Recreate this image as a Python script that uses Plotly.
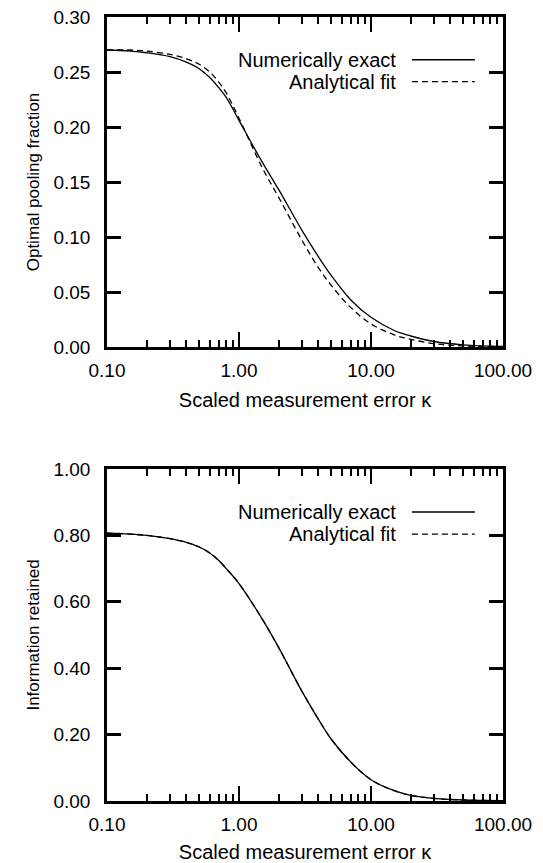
import plotly.graph_objects as go
from plotly.subplots import make_subplots

# ---- data ----
kappa = [0.1, 0.15, 0.2, 0.3, 0.4, 0.5, 0.6, 0.7, 0.8, 1.0, 1.5, 2, 3, 4, 5, 7, 10, 15, 20, 30, 50, 100]
pool_exact = [0.270, 0.269, 0.2675, 0.264, 0.259, 0.253, 0.245, 0.236, 0.227, 0.206, 0.168, 0.143,
              0.106, 0.082, 0.065, 0.043, 0.027, 0.015, 0.010, 0.005, 0.002, 0.0005]
pool_fit = [0.270, 0.270, 0.269, 0.266, 0.262, 0.257, 0.250, 0.241, 0.231, 0.208, 0.163, 0.136,
            0.097, 0.072, 0.056, 0.036, 0.021, 0.011, 0.007, 0.003, 0.001, 0.0002]
info_exact = [0.807, 0.804, 0.800, 0.790, 0.779, 0.765, 0.747, 0.725, 0.700, 0.655, 0.548, 0.462,
              0.330, 0.246, 0.186, 0.118, 0.064, 0.031, 0.017, 0.008, 0.003, 0.001]
info_fit = [0.807, 0.804, 0.800, 0.790, 0.779, 0.765, 0.747, 0.725, 0.700, 0.655, 0.548, 0.462,
            0.330, 0.246, 0.186, 0.118, 0.064, 0.031, 0.017, 0.008, 0.003, 0.001]

x_tickvals = [0.1, 1, 10, 100]
x_ticktext = ["0.10", "1.00", "10.00", "100.00"]
x_minor = [m * d for d in (0.1, 1, 10) for m in range(2, 10)]
series_names = ["Numerically exact", "Analytical fit"]
x_title = "Scaled measurement error \u03ba"
y_titles = ["Optimal pooling fraction", "Information retained"]

FONT = "Liberation Sans, Arial, sans-serif"
# page has an 8px body margin, so the figure is sized/placed to compensate
W, H = 535, 855
ML, MR, MT, MB = 99, 40, 9, 62
plot_h = H - MT - MB  # 784

fig = make_subplots(rows=2, cols=1, vertical_spacing=0)

line_kw = dict(color="black", width=1.3, shape="spline", smoothing=1.0)
fig.add_trace(go.Scatter(x=kappa, y=pool_exact, mode="lines", name=series_names[0],
                         line=line_kw), row=1, col=1)
fig.add_trace(go.Scatter(x=kappa, y=pool_fit, mode="lines", name=series_names[1],
                         line=dict(**line_kw, dash="6px,4px")), row=1, col=1)
fig.add_trace(go.Scatter(x=kappa, y=info_exact, mode="lines", name=series_names[0],
                         line=line_kw), row=2, col=1)
fig.add_trace(go.Scatter(x=kappa, y=info_fit, mode="lines", name=series_names[1],
                         line=dict(**line_kw, dash="6px,4px")), row=2, col=1)

# page-pixel geometry of the two panels (top 17..347, bottom 469..801)
top_dom = [(801 - 347) / plot_h, 1.0]
bot_dom = [0.0, (801 - 469) / plot_h]

xaxis_common = dict(
    type="log", range=[-1, 2], tickmode="array", tickvals=x_tickvals, ticktext=x_ticktext,
    ticks="inside", ticklen=15, tickwidth=2, tickcolor="black",
    showline=True, linecolor="black", linewidth=2.5, mirror="ticks",
    showgrid=False, zeroline=False,
    tickfont=dict(family=FONT, size=19, color="black"),
    minor=dict(tickvals=x_minor, ticks="inside", ticklen=7, tickwidth=2, tickcolor="black", showgrid=False),
    title=dict(text=x_title, font=dict(family=FONT, size=20, color="black"), standoff=14),
    automargin=False, ticklabelstandoff=4, ticklabeloverflow="allow",
)
yaxis_common = dict(
    ticks="inside", ticklen=14, tickwidth=2.5, tickcolor="black",
    showline=True, linecolor="black", linewidth=2.5, mirror="ticks",
    showgrid=False, zeroline=False, tickformat=".2f",
    tickfont=dict(family=FONT, size=19, color="black"),
    automargin=False, ticklabelstandoff=10, ticklabeloverflow="allow",
)

fig.update_layout(
    width=W, height=H,
    margin=dict(l=ML, r=MR, t=MT, b=MB),
    paper_bgcolor="white", plot_bgcolor="white",
    showlegend=False,
    xaxis=dict(**xaxis_common, domain=[0, 1], anchor="y"),
    xaxis2=dict(**xaxis_common, domain=[0, 1], anchor="y2"),
    yaxis=dict(**yaxis_common, domain=top_dom, range=[0, 0.30], dtick=0.05, tick0=0,
               title=dict(text=y_titles[0], font=dict(family=FONT, size=17, color="black"), standoff=10)),
    yaxis2=dict(**yaxis_common, domain=bot_dom, range=[0, 1.0], dtick=0.2, tick0=0,
                title=dict(text=y_titles[1], font=dict(family=FONT, size=17, color="black"), standoff=10)),
)

# legend drawn as text + sample lines in the upper right of each panel
for xr, yr in (("x domain", "y domain"), ("x2 domain", "y2 domain")):
    for i, (nm, dash) in enumerate(zip(series_names, ["solid", "6px,4px"])):
        yy = [0.8705, 0.8040][i]
        fig.add_annotation(x=0.735, y=yy, xref=xr, yref=yr, text=nm, showarrow=False,
                           xanchor="right", yanchor="middle",
                           font=dict(family=FONT, size=20, color="black"))
        fig.add_shape(type="line", xref=xr, yref=yr, x0=0.770, x1=0.929, y0=yy, y1=yy,
                      line=dict(color="black", width=1.3, dash=dash))

fig.write_html("out.html")
